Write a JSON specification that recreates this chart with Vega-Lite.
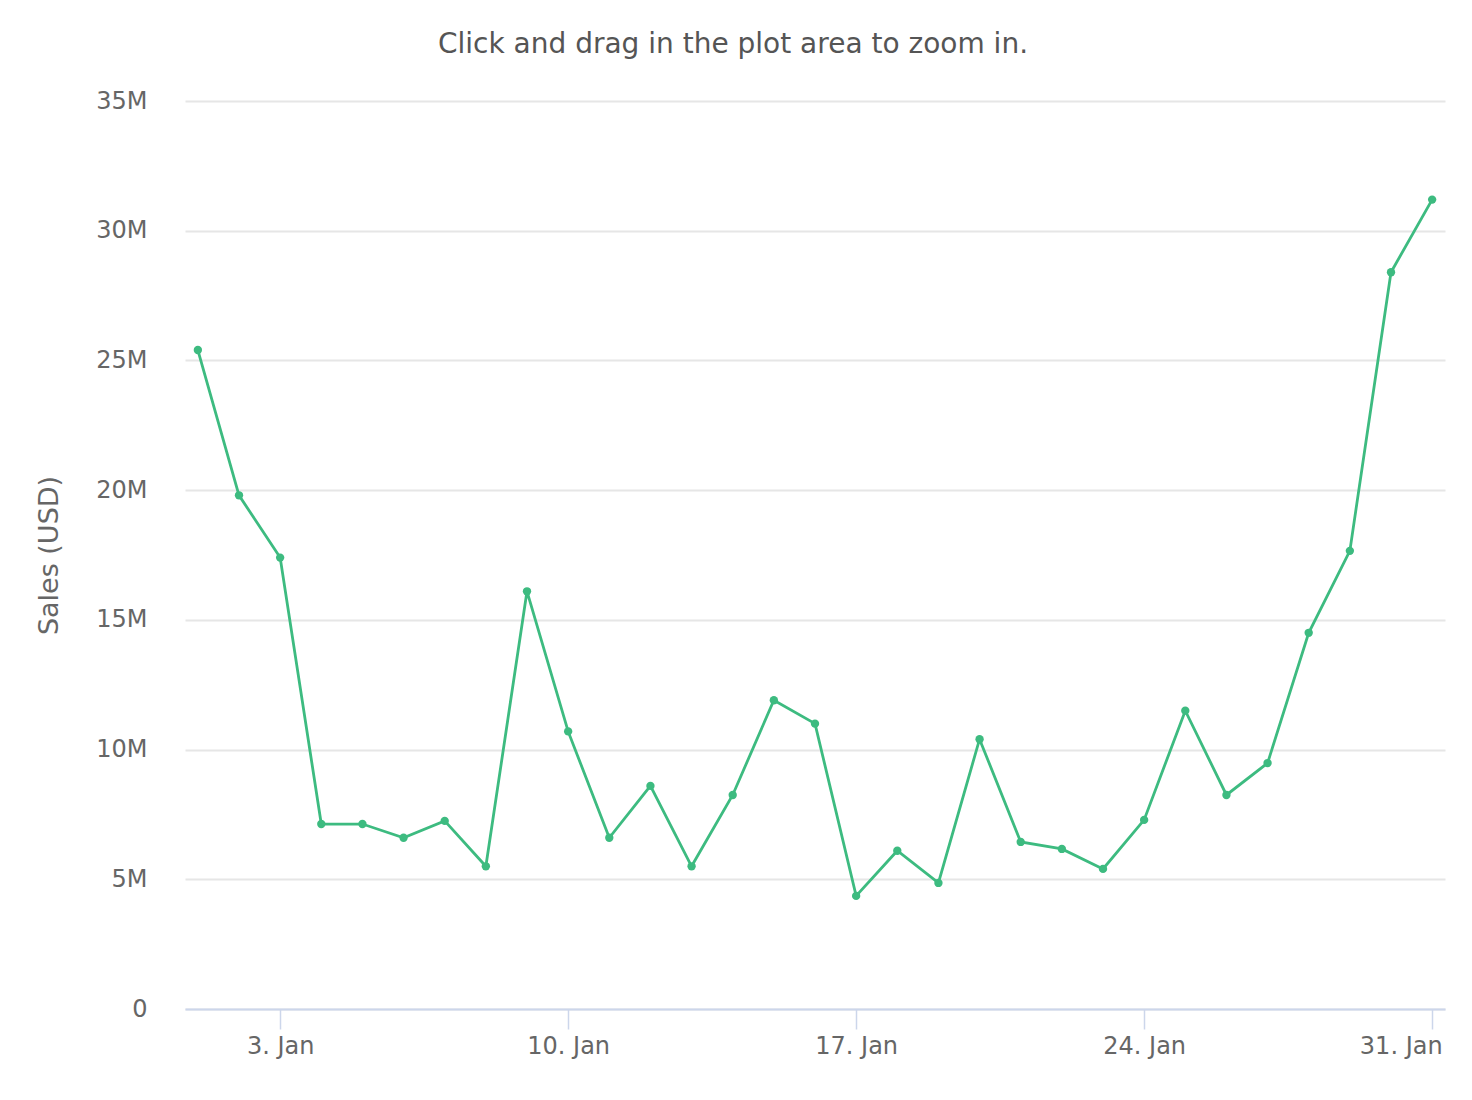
{
  "$schema": "https://vega.github.io/schema/vega-lite/v6.json",
  "autosize": "none",
  "width": 1260,
  "height": 908,
  "padding": {"left": 185, "top": 101, "right": 27, "bottom": 91},
  "background": "white",
  "title": {
    "text": "Click and drag in the plot area to zoom in.",
    "anchor": "middle",
    "frame": "group",
    "dx": -82,
    "offset": 30,
    "font": "DejaVu Sans",
    "fontSize": 28,
    "fontWeight": "normal",
    "color": "#555555"
  },
  "config": {"view": {"stroke": null}},
  "data": {
    "values": [
      {"date": "2022-01-01", "sales": 25400000},
      {"date": "2022-01-02", "sales": 19800000},
      {"date": "2022-01-03", "sales": 17400000},
      {"date": "2022-01-04", "sales": 7130000},
      {"date": "2022-01-05", "sales": 7130000},
      {"date": "2022-01-06", "sales": 6600000},
      {"date": "2022-01-07", "sales": 7250000},
      {"date": "2022-01-08", "sales": 5500000},
      {"date": "2022-01-09", "sales": 16100000},
      {"date": "2022-01-10", "sales": 10700000},
      {"date": "2022-01-11", "sales": 6600000},
      {"date": "2022-01-12", "sales": 8600000},
      {"date": "2022-01-13", "sales": 5500000},
      {"date": "2022-01-14", "sales": 8250000},
      {"date": "2022-01-15", "sales": 11900000},
      {"date": "2022-01-16", "sales": 11000000},
      {"date": "2022-01-17", "sales": 4360000},
      {"date": "2022-01-18", "sales": 6100000},
      {"date": "2022-01-19", "sales": 4860000},
      {"date": "2022-01-20", "sales": 10400000},
      {"date": "2022-01-21", "sales": 6440000},
      {"date": "2022-01-22", "sales": 6170000},
      {"date": "2022-01-23", "sales": 5400000},
      {"date": "2022-01-24", "sales": 7290000},
      {"date": "2022-01-25", "sales": 11500000},
      {"date": "2022-01-26", "sales": 8250000},
      {"date": "2022-01-27", "sales": 9480000},
      {"date": "2022-01-28", "sales": 14500000},
      {"date": "2022-01-29", "sales": 17660000},
      {"date": "2022-01-30", "sales": 28400000},
      {"date": "2022-01-31", "sales": 31200000}
    ]
  },
  "mark": {
    "type": "line",
    "color": "#3dbb80",
    "strokeWidth": 2.8,
    "point": {"filled": true, "size": 70, "color": "#3dbb80"}
  },
  "encoding": {
    "x": {
      "field": "date",
      "type": "temporal",
      "title": null,
      "scale": {
        "type": "utc",
        "domain": [
          {"year": 2021, "month": 12, "date": 31, "hours": 16, "minutes": 30, "utc": true},
          {"year": 2022, "month": 1, "date": 31, "hours": 7, "minutes": 30, "utc": true}
        ]
      },
      "axis": {
        "values": [
          {"year": 2022, "month": 1, "date": 3, "utc": true},
          {"year": 2022, "month": 1, "date": 10, "utc": true},
          {"year": 2022, "month": 1, "date": 17, "utc": true},
          {"year": 2022, "month": 1, "date": 24, "utc": true},
          {"year": 2022, "month": 1, "date": 31, "utc": true}
        ],
        "labelExpr": "utcFormat(datum.value, '%-d. %b')",
        "grid": false,
        "domainColor": "#ccd6eb",
        "domainWidth": 2,
        "tickColor": "#ccd6eb",
        "tickWidth": 1.5,
        "tickSize": 20,
        "labelPadding": 5,
        "labelFont": "DejaVu Sans",
        "labelFontSize": 24,
        "labelColor": "#666666",
        "labelBaseline": "top",
        "labelFlush": 15,
        "labelFlushOffset": 10,
        "labelOverlap": false
      }
    },
    "y": {
      "field": "sales",
      "type": "quantitative",
      "title": "Sales (USD)",
      "scale": {"domain": [0, 35000000], "nice": false},
      "axis": {
        "values": [0, 5000000, 10000000, 15000000, 20000000, 25000000, 30000000, 35000000],
        "labelExpr": "datum.value == 0 ? '0' : format(datum.value / 1000000, 'd') + 'M'",
        "domain": false,
        "ticks": false,
        "gridColor": "#e6e6e6",
        "gridWidth": 2,
        "labelPadding": 38,
        "labelFont": "DejaVu Sans",
        "labelFontSize": 24,
        "labelColor": "#666666",
        "titleFont": "DejaVu Sans",
        "titleFontSize": 27,
        "titleFontWeight": "normal",
        "titleColor": "#666666",
        "titlePadding": 32
      }
    }
  }
}
